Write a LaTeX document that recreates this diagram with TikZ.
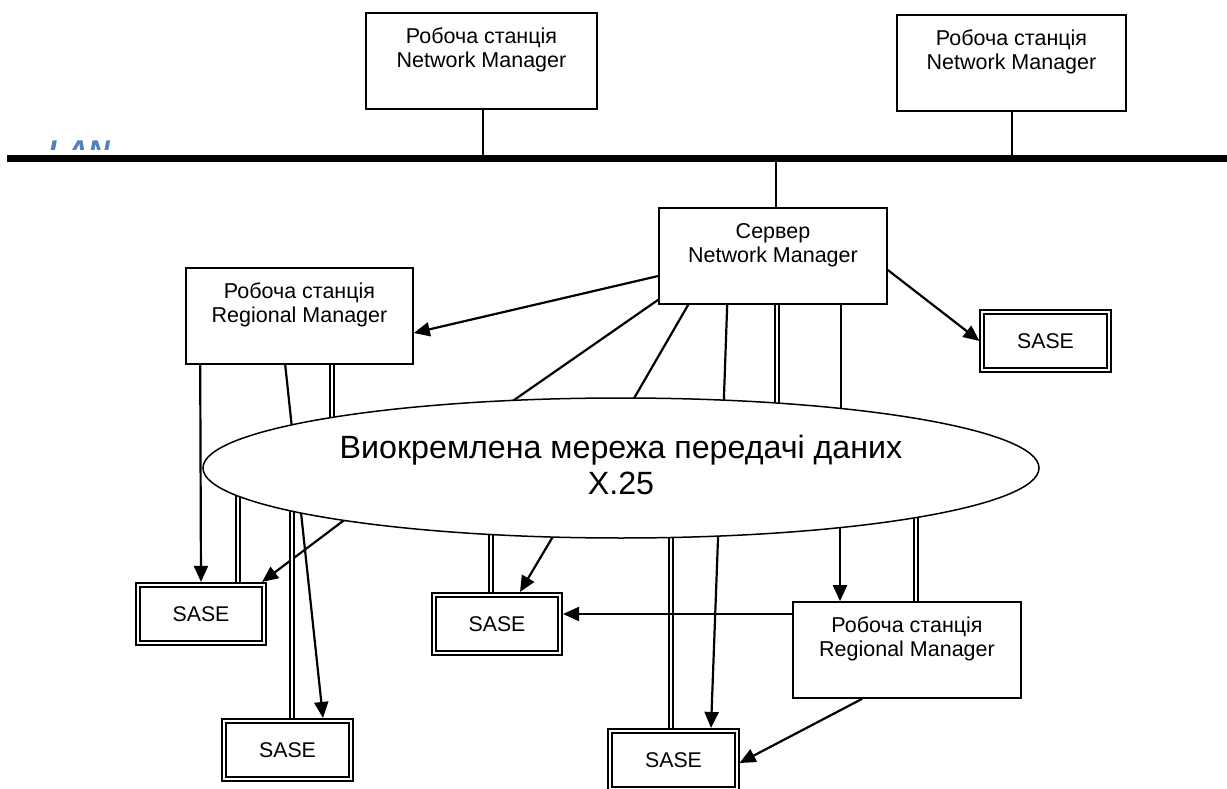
\documentclass[tikz,border=0pt]{standalone}
\usepackage{fontspec}
\setmainfont{Liberation Sans}
\usetikzlibrary{arrows.meta,shapes.geometric,backgrounds}
\definecolor{lanblue}{RGB}{79,129,189}
\begin{document}
\begin{tikzpicture}[x=1pt,y=-1pt,
  box/.style={draw,line width=1.6pt,fill=white,rectangle,inner sep=0pt,minimum height=96pt},
  boxtxt/.style={align=center,inner sep=0pt,font=\fontsize{21.5}{24}\selectfont},
  sase/.style={draw,double,double distance=2pt,line width=1.8pt,fill=white,rectangle,inner sep=0pt,
    outer sep=2.8pt,minimum width=126.5pt,minimum height=58.5pt,font=\fontsize{21.3}{24}\selectfont},
  conn/.style={line width=2.2pt},
  arr/.style={line width=2.2pt,-{Triangle[length=16pt,width=14pt]}},
  dbl/.style={double,double distance=2.8pt,line width=1.5pt},
]
\useasboundingbox (0,0) rectangle (1227,789);

% LAN bar and label
\begin{scope}
  \clip (0,0) rectangle (1227,150);
  \node[anchor=base west,inner sep=0pt,text=lanblue,font=\fontsize{30}{30}\selectfont\bfseries\itshape] (lan) at (48,161.5) {LAN};
\end{scope}
\coordinate (barL) at (7,158.5);
\coordinate (barR) at (1227,158.5);
\draw[line width=7pt] (barL) -- (barR);

% boxes
\node[box,minimum width=231pt] (ws1) at (481.5,61) {};
\node[boxtxt] (ws1t) at ([yshift=-38]ws1.north) {Робоча станція\\Network Manager};
\node[box,minimum width=229pt] (ws2) at (1011.5,63) {};
\node[boxtxt] (ws2t) at ([yshift=-38]ws2.north) {Робоча станція\\Network Manager};
\node[box,minimum width=228pt] (srv) at (773,256) {};
\node[boxtxt] (srvt) at ([yshift=-38]srv.north) {Сервер\\Network Manager};
\node[box,minimum width=227pt] (rm1) at (299.5,316) {};
\node[boxtxt] (rm1t) at ([yshift=-38]rm1.north) {Робоча станція\\Regional Manager};
\node[box,minimum width=228pt] (rm2) at (907,650) {};
\node[boxtxt] (rm2t) at ([yshift=-38]rm2.north) {Робоча станція\\Regional Manager};

\node[sase] (saseR) at (1045.5,341) {SASE};
\node[sase] (sase1) at (201,614) {SASE};
\node[sase] (sase3) at (287.5,750) {SASE};
\node[sase] (sase2) at (497,624) {SASE};
\node[sase] (sase4) at (673.5,760) {SASE};

% network ellipse
\node[draw,ellipse,line width=1.5pt,fill=white,inner sep=0pt,minimum width=836pt,minimum height=140pt] (net) at (621,468) {};
\node[align=center,inner sep=0pt,font=\fontsize{32.2}{36}\selectfont] (nett) at ([yshift=3.5]net.center) {Виокремлена мережа передачі даних\\X.25};

% points inside the network
\coordinate (n1) at (504,407);
\coordinate (n2) at (629,407);
\coordinate (n3) at (723.5,410);
\coordinate (n4) at (777,412);
\coordinate (n5) at (841,415);
\coordinate (n6) at (332,428);
\coordinate (m1) at (238,486);
\coordinate (m2) at (351,515);
\coordinate (m3) at (292,505);
\coordinate (m4) at (491,528);
\coordinate (m5) at (558,528);
\coordinate (m6) at (671,530);
\coordinate (m7) at (718.4,528);
\coordinate (m8) at (840,520);
\coordinate (m9) at (916,510);

\begin{pgfonlayer}{background}
  % LAN drops
  \draw[conn,line width=1.7pt] ([xshift=1.5]ws1.south) -- ([xshift=1.5]ws1.south |- barL);
  \draw[conn,line width=1.7pt] ([xshift=0.5]ws2.south) -- ([xshift=0.5]ws2.south |- barL);
  \draw[conn,line width=1.7pt] ([xshift=3]srv.north) -- ([xshift=3]srv.north |- barL);
  % server links
  \draw[arr] ([yshift=-20]srv.west) -- ([yshift=-17]rm1.east);
  \draw[arr] ([yshift=-14]srv.east) -- (saseR.west);
  \draw[conn] ([yshift=5]srv.south west) -- (n1);
  \draw[conn] ([xshift=30]srv.south west) -- (n2);
  \draw[conn] ([xshift=69]srv.south west) -- (n3);
  \draw[dbl] (n4 |- srv.south) -- (n4);
  \draw[conn] (n5 |- srv.south) -- (n5);
  % regional manager 1
  \draw[arr] ([xshift=15]rm1.south west) -- (sase1.north);
  \draw[arr] ([xshift=100]rm1.south west) -- ([xshift=35.5]sase3.north);
  \draw[dbl] (n6 |- rm1.south) -- (n6);
  % network to stations
  \draw[dbl] (m1) -- (m1 |- sase1.north);
  \draw[arr] (m2) -- ([xshift=-5]sase1.north east);
  \draw[dbl] (m3) -- (m3 |- sase3.north);
  \draw[dbl] (m4) -- (m4 |- sase2.north);
  \draw[arr] (m5) -- ([xshift=23]sase2.north);
  \draw[dbl] (m6) -- (m6 |- sase4.north);
  \draw[arr] (m7) -- ([xshift=37.5]sase4.north);
  \draw[arr] (m8) -- (m8 |- rm2.north);
  \draw[dbl] (m9) -- (m9 |- rm2.north);
  % regional manager 2
  \draw[arr] ([yshift=36]rm2.west) -- ([yshift=36]rm2.west -| sase2.east);
  \draw[arr] ([xshift=70]rm2.south west) -- ([yshift=-3]sase4.east);
\end{pgfonlayer}
\end{tikzpicture}
\end{document}
